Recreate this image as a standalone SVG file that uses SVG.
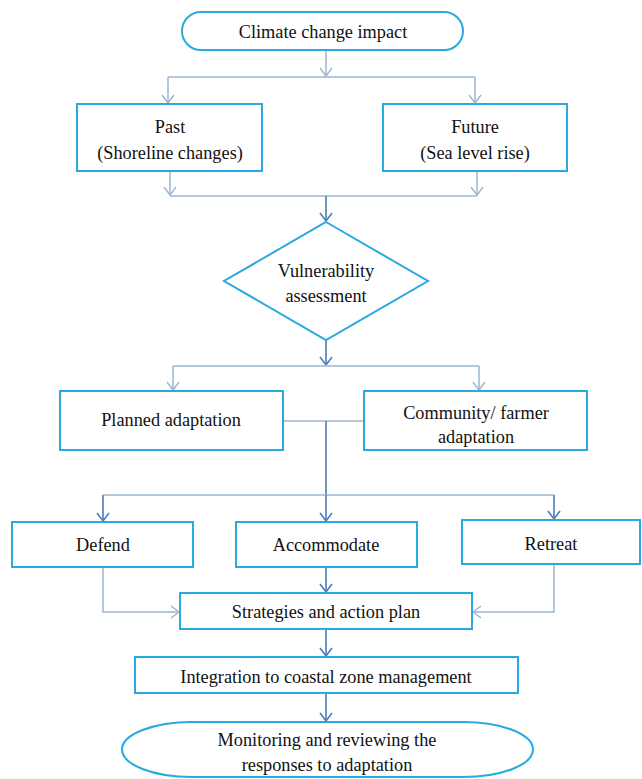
<svg xmlns="http://www.w3.org/2000/svg" width="642" height="779" viewBox="0 0 642 779">
<defs>
<marker id="aL" markerUnits="userSpaceOnUse" markerWidth="12" markerHeight="14" refX="9" refY="7" orient="auto" viewBox="0 0 12 14">
<path d="M1,1 L9,7 L1,13" fill="none" stroke="#9DB5CE" stroke-width="1.4"/>
</marker>
<marker id="aD" markerUnits="userSpaceOnUse" markerWidth="12" markerHeight="14" refX="9" refY="7" orient="auto" viewBox="0 0 12 14">
<path d="M1,1 L9,7 L1,13" fill="none" stroke="#4A7DBA" stroke-width="1.6"/>
</marker>
<style>
.n{fill:#fff;stroke:#29A9E1;stroke-width:2}
text{font-family:"Liberation Serif","DejaVu Serif",serif;font-size:18.3px;fill:#111;text-anchor:middle}
.l{fill:none;stroke:#9DB5CE;stroke-width:1.5}
.d{fill:none;stroke:#4A7DBA;stroke-width:1.6}
</style>
</defs>
<rect width="642" height="779" fill="#fff"/>
<g id="connectors">
<path class="l" d="M326,50 V76" marker-end="url(#aL)"/>
<path class="l" d="M168,77 H475"/>
<path class="l" d="M168,77 V103" marker-end="url(#aL)"/>
<path class="l" d="M475,77 V103" marker-end="url(#aL)"/>
<path class="l" d="M170,171 V195" marker-end="url(#aL)"/>
<path class="l" d="M477,171 V195" marker-end="url(#aL)"/>
<path class="l" d="M170,196 H477"/>
<path class="d" d="M326,196 V221" marker-end="url(#aD)"/>
<path class="d" d="M326,340 V365" marker-end="url(#aD)"/>
<path class="l" d="M173,366 H479"/>
<path class="l" d="M173,366 V390" marker-end="url(#aL)"/>
<path class="l" d="M479,366 V390" marker-end="url(#aL)"/>
<path class="l" d="M283,421 H364"/>
<path class="d" d="M326,421 V495"/>
<path class="l" d="M103,495 H554"/>
<path class="d" d="M103,495 V521" marker-end="url(#aD)"/>
<path class="d" d="M326,495 V521" marker-end="url(#aD)"/>
<path class="d" d="M554,495 V519" marker-end="url(#aD)"/>
<path class="d" d="M326,567 V592" marker-end="url(#aD)"/>
<path class="l" d="M103,567 V612 H179" marker-end="url(#aL)"/>
<path class="l" d="M554,564 V612 H473" marker-end="url(#aL)"/>
<path class="d" d="M326,629 V656" marker-end="url(#aD)"/>
<path class="d" d="M326,693 V721" marker-end="url(#aD)"/>
</g>
<g id="climate">
<rect class="n" x="182" y="12" width="281" height="38" rx="19" ry="19"/>
<text x="323" y="38">Climate change impact</text>
</g>
<g id="past">
<rect class="n" x="77" y="104" width="185" height="67"/>
<text x="170" y="133">Past</text>
<text x="170" y="159">(Shoreline changes)</text>
</g>
<g id="future">
<rect class="n" x="383" y="104" width="184" height="67"/>
<text x="475" y="133">Future</text>
<text x="475" y="159">(Sea level rise)</text>
</g>
<g id="vulnerability">
<polygon class="n" points="326,222 428,281 326,340 224,281"/>
<text x="326" y="277">Vulnerability</text>
<text x="326" y="302">assessment</text>
</g>
<g id="planned">
<rect class="n" x="60" y="391" width="223" height="59"/>
<text x="171" y="426">Planned adaptation</text>
</g>
<g id="community">
<rect class="n" x="364" y="391" width="223" height="59"/>
<text x="476" y="419">Community/ farmer</text>
<text x="476" y="443">adaptation</text>
</g>
<g id="defend">
<rect class="n" x="12" y="522" width="181" height="45"/>
<text x="103" y="551">Defend</text>
</g>
<g id="accommodate">
<rect class="n" x="236" y="522" width="181" height="45"/>
<text x="326" y="551">Accommodate</text>
</g>
<g id="retreat">
<rect class="n" x="462" y="520" width="178" height="44"/>
<text x="551" y="550">Retreat</text>
</g>
<g id="strategies">
<rect class="n" x="180" y="593" width="292" height="36"/>
<text x="326" y="618">Strategies and action plan</text>
</g>
<g id="integration">
<rect class="n" x="135" y="657" width="383" height="36"/>
<text x="326" y="683">Integration to coastal zone management</text>
</g>
<g id="monitoring">
<rect class="n" x="122" y="722" width="411" height="55" rx="70" ry="27.5"/>
<text x="327" y="746">Monitoring and reviewing the</text>
<text x="327" y="771">responses to adaptation</text>
</g>
</svg>
